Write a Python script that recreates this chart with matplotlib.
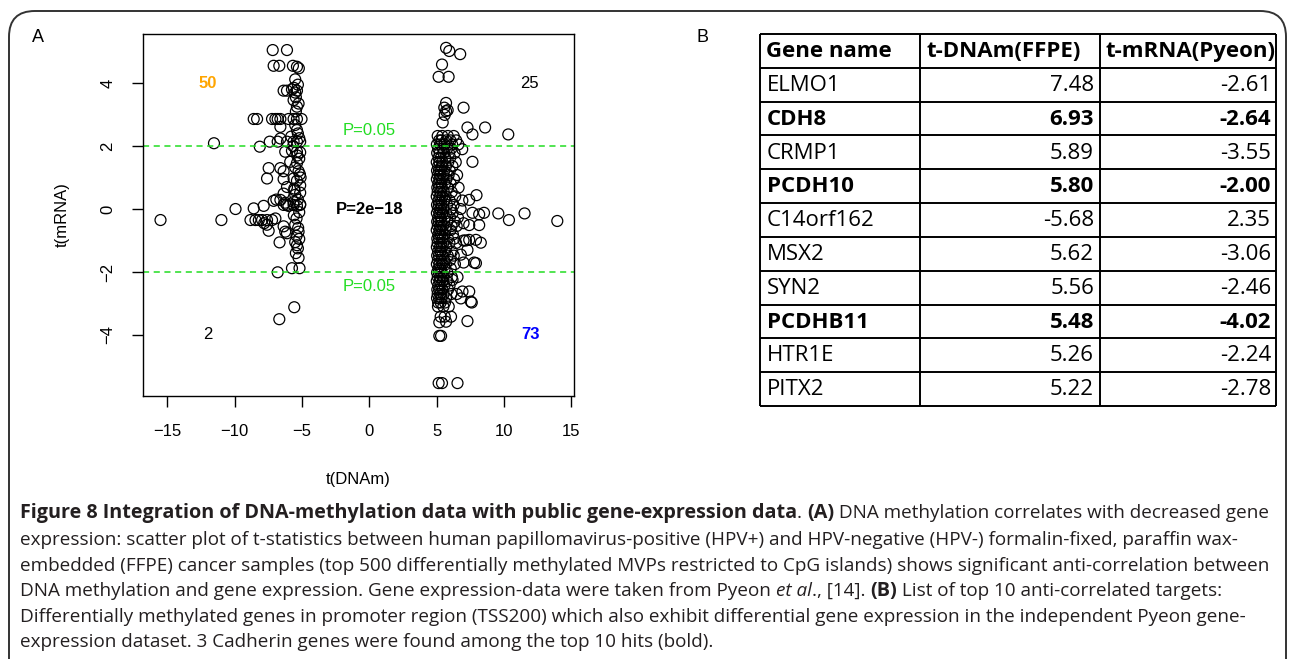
import numpy as np
import matplotlib.pyplot as plt
from matplotlib.patches import FancyBboxPatch

W, H = 1290, 659

# ---- panel A: t-statistics ----
left_x = [-7.17, -6.11, -7.10, -6.68, -5.67, -5.37, -5.23, -5.50, -5.30, -5.60,
          -6.36, -6.11, -5.74, -5.37, -5.50, -5.62, -5.37, -5.45,
          -8.58, -8.33, -7.22, -6.97, -6.80, -6.60, -5.99, -5.62, -5.37, -5.03,
          -6.60, -5.50, -5.37, -5.30, -11.53,
          -7.39, -6.80, -6.60, -6.11, -5.62, -5.37, -5.13, -5.80, -5.20, -8.13,
          -6.24, -5.74, -5.37, -5.13, -5.87, -5.37, -5.20,
          -7.47, -6.60, -6.36, -5.50, -5.25, -7.59, -6.36, -5.62, -5.37, -5.10,
          -6.11, -5.57, -5.13, -6.36, -5.50, -5.13, -9.93,
          -8.58, -7.84, -7.10, -6.60, -6.24, -6.00, -5.62, -5.37, -5.13, -5.30,
          -6.90, -6.36, -6.11, -5.62, -5.13,
          -15.50, -10.98, -8.82, -8.45, -8.20, -7.96, -7.59, -7.22, -6.97, -7.80, -7.60,
          -7.47, -6.36, -6.24, -6.11, -5.50, -5.25, -5.40, -5.20, -5.60,
          -6.66, -5.50, -5.37, -5.20, -5.30, -5.45, -5.25,
          -6.80, -5.74, -5.18, -5.57, -6.68,
          -5.45, -5.25, -5.65, -5.35, -5.15, -5.55, -5.40, -5.28]
left_y = [5.05, 5.05, 4.55, 4.55, 4.55, 4.52, 4.47, 4.12, 3.95, 3.85,
          3.76, 3.76, 3.80, 3.76, 3.70, 3.46, 3.25, 3.10,
          2.86, 2.86, 2.86, 2.86, 2.86, 2.86, 2.86, 2.86, 2.86, 2.86,
          2.61, 2.67, 2.51, 2.40, 2.09,
          2.14, 2.14, 2.24, 2.14, 2.14, 2.14, 2.14, 2.30, 2.25, 1.98,
          1.82, 1.85, 1.82, 1.80, 1.50, 1.46, 1.60,
          1.30, 1.30, 1.20, 1.32, 1.20, 0.97, 0.95, 0.97, 0.90, 1.00,
          0.70, 0.65, 0.75, 0.49, 0.45, 0.52, 0.00,
          0.02, 0.10, 0.26, 0.29, 0.20, 0.10, 0.22, 0.10, 0.15, 0.30,
          0.30, 0.13, 0.13, 0.13, 0.13,
          -0.35, -0.35, -0.35, -0.35, -0.35, -0.35, -0.35, -0.35, -0.30, -0.45, -0.50,
          -0.69, -0.55, -0.72, -0.77, -0.50, -0.72, -0.30, -0.10, -0.20,
          -1.06, -1.05, -1.15, -0.95, -1.25, -1.40, -1.55,
          -2.01, -1.88, -1.88, -3.12, -3.50,
          3.55, 3.35, 2.00, 1.70, 1.10, 0.60, -0.85, -0.60]

right_x = [5.70, 5.94, 6.75, 5.40, 5.15, 5.89,
           5.70, 5.57, 5.70, 5.82, 5.45, 7.00, 5.60,
           7.29, 7.66, 8.60, 10.32, 7.66, 6.90, 7.96, 7.42,
           8.52, 8.16, 7.66, 9.58, 10.37, 11.53, 13.96,
           7.42, 8.16, 7.00, 7.42, 7.92, 8.28, 7.00, 7.17,
           7.29, 6.80, 7.79, 7.92, 7.00, 7.42, 6.92, 6.80, 7.61, 6.50, 6.18, 7.54,
           7.29, 5.20, 5.33, 5.15, 5.40, 6.55,
           5.30, 5.60, 5.10, 5.50, 5.90, 5.20, 5.70, 6.07]
right_y = [5.12, 5.02, 4.92, 4.59, 4.20, 4.20,
           3.37, 3.22, 3.11, 3.14, 2.75, 3.22, 2.99,
           2.59, 2.37, 2.59, 2.37, 1.50, 1.90, 0.44, 0.29,
           -0.12, -0.17, -0.12, -0.14, -0.35, -0.14, -0.38,
           -0.51, -0.51, -0.45, -0.98, -0.98, -1.07, -1.00, -1.00,
           -1.30, -1.45, -1.70, -1.72, -1.70, -2.62, -2.62, -2.84, -2.97, -2.70, -2.25, -2.94,
           -3.56, -4.03, -4.03, -5.53, -5.53, -5.53,
           -3.42, -3.42, -3.10, -3.10, -3.10, -3.60, -3.58, -3.42]

# dense block of the right cluster, row by row
core_y = [2.32, 2.18, 2.05, 1.92, 1.78, 1.63, 1.49, 1.36, 1.22, 1.08, 0.95, 0.81,
          0.68, 0.54, 0.40, 0.27, 0.13, 0.00, -0.13, -0.27, -0.40, -0.54, -0.67,
          -0.81, -0.94, -1.08, -1.21, -1.35, -1.48, -1.62, -1.75, -1.89, -2.02,
          -2.16, -2.29, -2.43, -2.56, -2.70, -2.83, -2.97]
core_x = [[5.08, 5.42, 5.83, 6.27], [5.19, 5.36, 5.71, 6.02, 6.45], [5.02, 5.27, 5.58, 6.15, 6.61],
          [5.12, 5.47, 5.78, 6.09], [5.04, 5.23, 5.51, 5.92, 6.33], [5.15, 5.32, 5.64, 6.01],
          [5.01, 5.21, 5.44, 5.86, 6.42], [5.11, 5.38, 5.69, 6.18], [5.03, 5.18, 5.31, 5.57, 5.98],
          [5.09, 5.26, 5.49, 5.89, 6.52], [5.02, 5.22, 5.41, 5.73, 6.29], [5.13, 5.34, 5.62, 6.04],
          [5.05, 5.19, 5.39, 5.81, 6.63], [5.08, 5.29, 5.53, 6.12], [5.01, 5.24, 5.43, 5.68, 6.38],
          [5.14, 5.33, 5.59, 5.97, 6.91], [5.03, 5.17, 5.37, 5.77, 6.26], [5.10, 5.28, 5.52, 6.08, 6.78],
          [5.02, 5.21, 5.45, 5.71, 6.19], [5.12, 5.31, 5.61, 5.99, 6.58], [5.04, 5.16, 5.36, 5.79, 6.35],
          [5.09, 5.27, 5.48, 6.11, 6.49], [5.01, 5.22, 5.40, 5.66, 6.03], [5.13, 5.30, 5.57, 6.21],
          [5.05, 5.19, 5.42, 5.84, 6.31], [5.08, 5.33, 5.50, 5.95, 6.44], [5.02, 5.24, 5.38, 5.72],
          [5.11, 5.29, 5.63, 6.14], [5.04, 5.18, 5.41, 5.82, 6.27], [5.10, 5.34, 5.54, 6.01],
          [5.02, 5.21, 5.44, 5.69, 6.36], [5.14, 5.31, 5.60, 6.05], [5.03, 5.17, 5.39, 5.80],
          [5.09, 5.26, 5.51, 6.13, 6.55], [5.01, 5.23, 5.46, 5.74], [5.12, 5.32, 5.58, 5.96],
          [5.05, 5.20, 5.43, 5.85], [5.08, 5.28, 5.52, 6.09], [5.03, 5.19, 5.37, 5.70],
          [5.11, 5.30, 5.62]]

quad_counts = ["50", "25", "2", "73"]

# ---- panel B: table ----
genes = ["ELMO1", "CDH8", "CRMP1", "PCDH10", "C14orf162", "MSX2", "SYN2",
         "PCDHB11", "HTR1E", "PITX2"]
t_dnam_ffpe = [7.48, 6.93, 5.89, 5.80, -5.68, 5.62, 5.56, 5.48, 5.26, 5.22]
t_mrna_pyeon = [-2.61, -2.64, -3.55, -2.00, 2.35, -3.06, -2.46, -4.02, -2.24, -2.78]
bold_rows = [False, True, False, True, False, False, False, True, False, False]
headers = ["Gene name", "t-DNAm(FFPE)", "t-mRNA(Pyeon)"]

cx, cy = [], []
for yv, xs in zip(core_y, core_x):
    cx += xs
    cy += [yv] * len(xs)
xs_all = np.array(left_x + right_x + cx)
ys_all = np.array(left_y + right_y + cy)

fig = plt.figure(figsize=(W / 100, H / 100), dpi=100)
RF = ["Liberation Sans", "DejaVu Sans"]
CF = ["Open Sans", "DejaVu Sans"]

# rounded frame
frame = FancyBboxPatch((9 / W, -0.2), (1286 - 9) / W, 1.2 - 11 / H,
                       boxstyle="round,pad=0,rounding_size=0.02",
                       transform=fig.transFigure, fill=False,
                       edgecolor="#333333", linewidth=1.4, mutation_aspect=W / H)
fig.patches.append(frame)

ax = fig.add_axes([143 / W, 1 - 396 / H, (574 - 143) / W, (396 - 34) / H])
ax.scatter(xs_all, ys_all, s=62, facecolors="none", edgecolors="black", linewidths=0.9)
ax.set_xlim(-16.8, 15.2)
ax.set_ylim(-5.94, 5.56)
ax.set_xticks([-15, -10, -5, 0, 5, 10, 15])
ax.set_yticks([-4, -2, 0, 2, 4])
for sp in ax.spines.values():
    sp.set_linewidth(1.0)
ax.tick_params(direction="out", length=8, width=1.0, labelsize=12, pad=12)
for lab in ax.get_xticklabels() + ax.get_yticklabels():
    lab.set_family(RF)
plt.setp(ax.get_yticklabels(), rotation=90, va="center")
ax.set_xlabel("t(DNAm)", fontsize=12, family=RF, labelpad=24)
ax.set_ylabel("t(mRNA)", fontsize=12, family=RF, labelpad=22)

green = "#22dd22"
for yv in (2, -2):
    ax.axhline(yv, color=green, linestyle=(0, (4, 3)), linewidth=1.1)
ax.text(0, 2.5, "P=0.05", color=green, fontsize=12, ha="center", va="center", family=RF)
ax.text(0, -2.45, "P=0.05", color=green, fontsize=12, ha="center", va="center", family=RF)
ax.text(0, 0, "P=2e\u221218", color="black", fontsize=12, weight="bold",
        ha="center", va="center", family=RF)
qpos = [(-12, 4), (11.9, 4), (-12, -4), (12, -4)]
qcol = ["#ffa500", "black", "black", "#0000ff"]
qbold = ["bold", "normal", "normal", "bold"]
for lab, (qx, qy), c, b in zip(quad_counts, qpos, qcol, qbold):
    ax.text(qx, qy, lab, color=c, fontsize=12, weight=b, ha="center", va="center", family=RF)

fig.text(38 / W, 1 - 37 / H, "A", fontsize=13, family=RF, ha="center", va="center")
fig.text(703 / W, 1 - 37 / H, "B", fontsize=13, family=RF, ha="center", va="center")

# table
tx0, tx1, ty0, ty1 = 760, 1276, 34, 406
tab = fig.add_axes([tx0 / W, 1 - ty1 / H, (tx1 - tx0) / W, (ty1 - ty0) / H])
tab.set_xlim(tx0, tx1)
nrow = len(genes) + 1
tab.set_ylim(nrow, 0)
tab.axis("off")
col_edges = [760, 920, 1100, 1276]
tab.hlines(np.arange(nrow + 1), tx0, tx1, color="black", linewidth=1.4, clip_on=False)
tab.vlines(col_edges, 0, nrow, color="black", linewidth=1.4, clip_on=False)
TFS = 16
for j, h in enumerate(headers):
    tab.text(col_edges[j] + 6, 0.52, h, fontsize=TFS, weight="bold", family=CF,
             va="center", ha="left", color="black")
for i, (g, a, b, bb) in enumerate(zip(genes, t_dnam_ffpe, t_mrna_pyeon, bold_rows)):
    w = "bold" if bb else "normal"
    r = i + 1.52
    tab.text(col_edges[0] + 7, r, g, fontsize=TFS, weight=w, family=CF, va="center", color="black")
    tab.text(col_edges[2] - 6, r, f"{a:.2f}", fontsize=TFS, weight=w, family=CF,
             va="center", ha="right", color="black")
    tab.text(col_edges[3] - 5, r, f"{b:.2f}", fontsize=TFS, weight=w, family=CF,
             va="center", ha="right", color="black")

# caption
cap_lines = [
    [("Figure 8 Integration of DNA-methylation data with public gene-expression data", "bold", "normal"),
     (". ", "normal", "normal"), ("(A)", "bold", "normal"),
     (" DNA methylation correlates with decreased gene", "normal", "normal")],
    [("expression: scatter plot of t-statistics between human papillomavirus-positive (HPV+) and HPV-negative (HPV-) formalin-fixed, paraffin wax-", "normal", "normal")],
    [("embedded (FFPE) cancer samples (top 500 differentially methylated MVPs restricted to CpG islands) shows significant anti-correlation between", "normal", "normal")],
    [("DNA methylation and gene expression. Gene expression-data were taken from Pyeon ", "normal", "normal"),
     ("et al", "normal", "italic"), ("., [14]. ", "normal", "normal"), ("(B)", "bold", "normal"),
     (" List of top 10 anti-correlated targets:", "normal", "normal")],
    [("Differentially methylated genes in promoter region (TSS200) which also exhibit differential gene expression in the independent Pyeon gene-", "normal", "normal")],
    [("expression dataset. 3 Cadherin genes were found among the top 10 hits (bold).", "normal", "normal")],
]
cap_y = [513, 540, 566, 591, 617, 642]
renderer = fig.canvas.get_renderer()
for runs, yy in zip(cap_lines, cap_y):
    xx = 20
    for txt, wgt, sty in runs:
        fs = 14.2 if wgt == "bold" else 13.6
        t = fig.text(xx / W, 1 - yy / H, txt, fontsize=fs, weight=wgt, style=sty,
                     family=CF, color="#231f20", va="center", ha="left")
        xx += t.get_window_extent(renderer).width

fig.savefig("out.png", dpi=100)
